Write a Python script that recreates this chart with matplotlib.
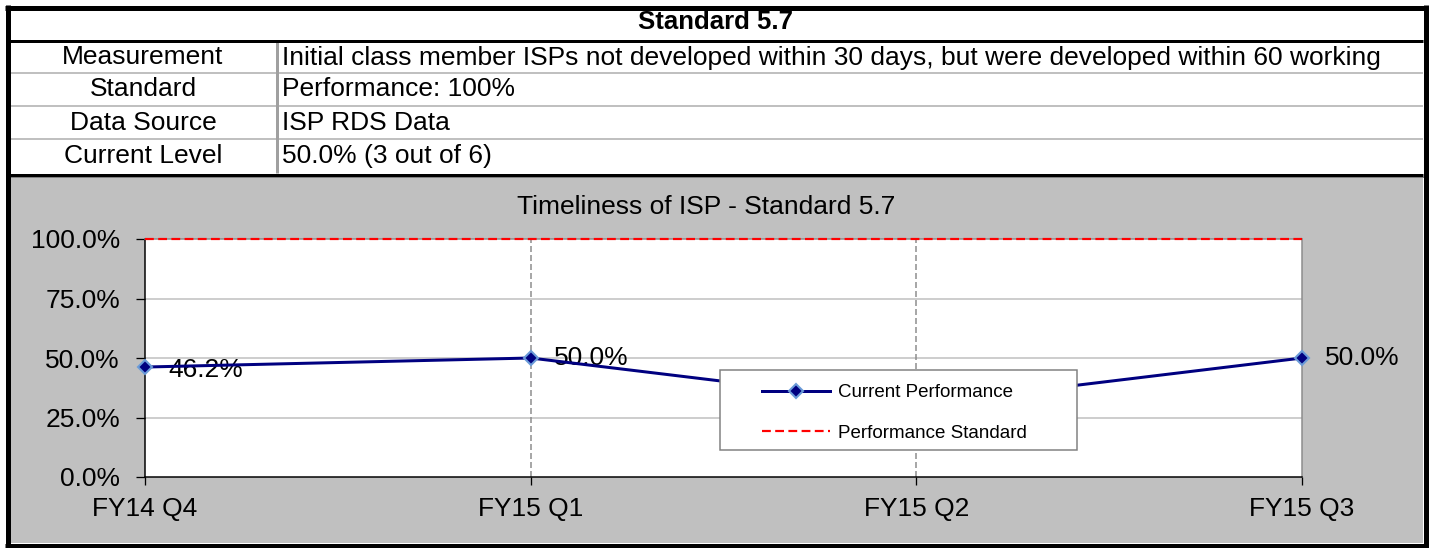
import matplotlib
matplotlib.use("Agg")
import matplotlib.pyplot as plt
from matplotlib.patches import Rectangle

plt.rcParams['font.family'] = ['Liberation Sans', 'DejaVu Sans']

# ---- data ----
categories = ["FY14 Q4", "FY15 Q1", "FY15 Q2", "FY15 Q3"]
current_performance = [46.2, 50.0, 30.4, 50.0]
performance_standard = [100.0, 100.0, 100.0, 100.0]
# the FY15 Q2 data label sits behind the legend in the reference, so it is not shown
labeled_points = [0, 1, 3]
y_ticks = [0, 25, 50, 75, 100]
y_tick_labels = ["0.0%", "25.0%", "50.0%", "75.0%", "100.0%"]

table_title = "Standard 5.7"
row_labels = ["Measurement", "Standard", "Data Source", "Current Level"]
row_values = [
    "Initial class member ISPs not developed within 30 days, but were developed within 60 working",
    "Performance: 100%",
    "ISP RDS Data",
    "50.0% (3 out of 6)",
]
chart_title = "Timeliness of ISP - Standard 5.7"
series_names = ["Current Performance", "Performance Standard"]

# ---- figure ----
W, H = 1430, 548
DPI = 100
PX = 72.0 / DPI  # points per pixel
fig = plt.figure(figsize=(W / DPI, H / DPI), dpi=DPI, facecolor="white")

bg = fig.add_axes([0, 0, 1, 1], zorder=0)
bg.set_xlim(0, W)
bg.set_ylim(H, 0)
bg.axis("off")

GREY = "#C0C0C0"
FS = 19
# chart background
bg.add_patch(Rectangle((10, 176), 1413, 367, facecolor=GREY, edgecolor="none"))
bg.plot([10, 1423], [176.5, 176.5], color="#808080", lw=1 * PX)

# table lines
for yy in [73, 106, 139]:
    bg.plot([10, 1423], [yy, yy], color=GREY, lw=2 * PX, solid_capstyle="butt")
bg.plot([276.5, 276.5], [42, 173], color="#A0A0A0", lw=3 * PX, solid_capstyle="butt")
bg.plot([10, 1423], [40.7, 40.7], color="black", lw=3 * PX, solid_capstyle="butt")
bg.plot([10, 1423], [174.5, 174.5], color="black", lw=3 * PX, solid_capstyle="butt")

# outer border
bw = 5 * PX
bg.plot([5, 1428], [7.5, 7.5], color="black", lw=bw, solid_capstyle="butt")
bg.plot([5, 1428], [545.5, 545.5], color="black", lw=bw, solid_capstyle="butt")
bg.plot([7.5, 7.5], [5, 548], color="black", lw=bw, solid_capstyle="butt")
bg.plot([1425.5, 1425.5], [5, 548], color="black", lw=bw, solid_capstyle="butt")

# table text
bg.text(715, 22, table_title, ha="center", va="center", fontsize=18.5, fontweight="bold")
row_centers = [57.5, 89.5, 122.5, 156]
for yc, lab, val in zip(row_centers, row_labels, row_values):
    bg.text(143, yc, lab, ha="center", va="center", fontsize=FS)
    bg.text(282, yc, val, ha="left", va="center", fontsize=FS)

bg.text(706, 207, chart_title, ha="center", va="center", fontsize=FS)

# ---- chart axes ----
L, R, T, B = 145, 1302, 239, 477
ax = fig.add_axes([L / W, 1 - B / H, (R - L) / W, (B - T) / H], zorder=1)
ax.set_facecolor("white")
x = list(range(len(categories)))
ax.set_xlim(0, len(categories) - 1)
ax.set_ylim(0, 100)

# grid
for yy in [25, 50, 75]:
    ax.axhline(yy, color="#BEBEBE", lw=1.5 * PX, zorder=1)
for xx in x[1:-1]:
    ax.axvline(xx, color="#8C8C8C", lw=1.5 * PX, ls=(0, (4, 2)), zorder=1)

ax.plot(x, performance_standard, color="red", lw=2.2 * PX, ls=(0, (4, 2)), zorder=3,
        label=series_names[1], clip_on=False)
ax.plot(x, current_performance, color="#000080", lw=3 * PX, marker="D", markersize=7.5,
        markerfacecolor="#000080", markeredgecolor="#6A9BD8", markeredgewidth=1.5,
        zorder=4, label=series_names[0], clip_on=False)

for i in labeled_points:
    v = current_performance[i]
    dy = -3 if v < 48 else 0
    ax.annotate(f"{v:.1f}%", (x[i], v), xytext=(23, dy), textcoords="offset pixels",
                ha="left", va="center", fontsize=FS, zorder=3.5, annotation_clip=False)

ax.set_xticks(x)
ax.set_xticklabels(categories, fontsize=FS)
ax.set_yticks(y_ticks)
ax.set_yticklabels(y_tick_labels, fontsize=FS)
ax.tick_params(axis="y", direction="out", length=9 * PX, width=1.3 * PX, pad=11.5, color="black")
ax.tick_params(axis="x", direction="out", length=8 * PX, width=1.3 * PX, pad=8.5, color="black")

for s in ["left", "bottom"]:
    ax.spines[s].set_color("black")
    ax.spines[s].set_linewidth(1.5 * PX)
for s in ["top", "right"]:
    ax.spines[s].set_color("#8C8C8C")
    ax.spines[s].set_linewidth(1.5 * PX)

# legend box + legend
box = Rectangle((720 / W, 1 - 450 / H), (1077 - 720) / W, 80 / H, transform=fig.transFigure,
                facecolor="white", edgecolor="#808080", lw=1.5 * PX, zorder=4.6)
ax.add_artist(box)
box.set_clip_on(False)
leg_fs = 13.5
fs_px = leg_fs / PX
h, l = ax.get_legend_handles_labels()
leg = ax.legend(h[::-1], l[::-1], loc="upper left", bbox_to_anchor=(762 / W, 1 - 384 / H),
                bbox_transform=fig.transFigure, frameon=False, fontsize=leg_fs,
                borderaxespad=0, borderpad=0, handlelength=68 / fs_px,
                handletextpad=8 / fs_px, labelspacing=1.26)
leg.set_zorder(5)

fig.savefig("out.png", dpi=DPI, facecolor="white")
